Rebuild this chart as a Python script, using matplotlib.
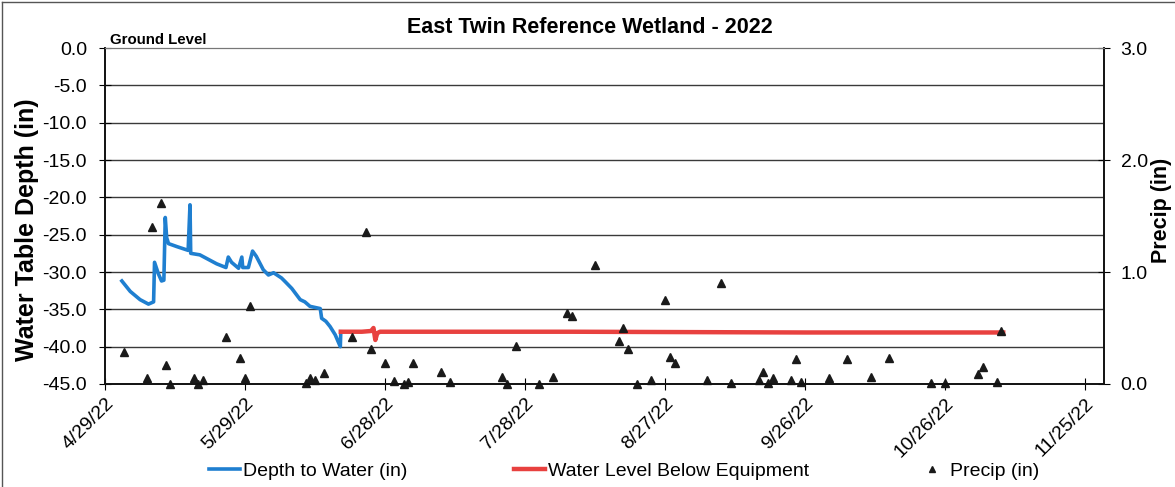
import numpy as np
import pandas as pd
import matplotlib
matplotlib.use("Agg")
import matplotlib.pyplot as plt
from matplotlib.lines import Line2D
from matplotlib.ticker import FuncFormatter
from matplotlib.transforms import ScaledTranslation

plt.rcParams['font.family'] = ['Liberation Sans', 'DejaVu Sans']

start = pd.Timestamp("2022-04-29")

# depth to water, days after 4/29/22 and depth (in)
depth_day = [3.6, 5.4, 7.5, 9.3, 10.4, 10.6, 11.4, 12.1, 12.6, 12.9, 13.2, 13.6,
             15.4, 17.8, 18.2, 18.35, 20.3, 21.8, 23.9, 25.9, 26.4, 27.1, 28.6,
             29.3, 29.5, 30.7, 31.6, 32.4, 33.9, 35.0, 36.1, 37.8, 38.6, 40.0,
             41.8, 42.8, 43.9, 46.1, 46.4, 47.3, 48.2, 49.3, 50.4, 50.5]
depth_val = [-31.2, -32.6, -33.7, -34.3, -34.0, -28.7, -30.2, -31.2, -31.1, -22.7,
             -25.4, -26.2, -26.6, -27.1, -21.0, -27.5, -27.7, -28.2, -28.9, -29.4,
             -28.0, -28.7, -29.5, -28.0, -29.4, -29.4, -27.2, -27.9, -29.7, -30.4,
             -30.1, -30.8, -31.3, -32.2, -33.7, -34.0, -34.6, -34.9, -36.2, -36.6,
             -37.3, -38.4, -40.0, -38.0]

# water level below equipment
below_day = [50.5, 55.0, 57.0, 57.5, 57.9, 58.3, 58.9, 100.0, 150.0, 192.4]
below_val = [-38.0, -38.0, -37.9, -37.5, -39.1, -38.2, -38.0, -38.0, -38.1, -38.1]

# daily precipitation (in)
precip_date = ["2022-05-03", "2022-05-08", "2022-05-09", "2022-05-11", "2022-05-12",
               "2022-05-13", "2022-05-18", "2022-05-19", "2022-05-20", "2022-05-25",
               "2022-05-28", "2022-05-29", "2022-05-30", "2022-06-11", "2022-06-12",
               "2022-06-13", "2022-06-15", "2022-06-21", "2022-06-24", "2022-06-25",
               "2022-06-28", "2022-06-30", "2022-07-02", "2022-07-03", "2022-07-04",
               "2022-07-10", "2022-07-12", "2022-07-23", "2022-07-24", "2022-07-26",
               "2022-07-31", "2022-08-03", "2022-08-06", "2022-08-07", "2022-08-12",
               "2022-08-17", "2022-08-18", "2022-08-19", "2022-08-21", "2022-08-24",
               "2022-08-27", "2022-08-28", "2022-08-29", "2022-09-05", "2022-09-08",
               "2022-09-10", "2022-09-16", "2022-09-17", "2022-09-18", "2022-09-19",
               "2022-09-23", "2022-09-24", "2022-09-25", "2022-10-01", "2022-10-05",
               "2022-10-10", "2022-10-14", "2022-10-23", "2022-10-26", "2022-11-02",
               "2022-11-03", "2022-11-06", "2022-11-07"]
precip_val = [0.29, 0.05, 1.40, 1.62, 0.17, 0.00, 0.05, 0.00, 0.04, 0.42,
              0.23, 0.05, 0.70, 0.01, 0.05, 0.04, 0.10, 0.42, 1.36, 0.31,
              0.19, 0.03, 0.00, 0.02, 0.19, 0.11, 0.02, 0.06, 0.00, 0.34,
              0.00, 0.06, 0.63, 0.61, 1.06, 0.38, 0.50, 0.31, 0.00, 0.04,
              0.75, 0.24, 0.19, 0.04, 0.90, 0.01, 0.04, 0.11, 0.01, 0.05,
              0.04, 0.22, 0.02, 0.05, 0.22, 0.06, 0.23, 0.01, 0.01, 0.09,
              0.15, 0.02, 0.47]

depth_x = start + pd.to_timedelta(depth_day, unit="D")
below_x = start + pd.to_timedelta(below_day, unit="D")
precip_x = pd.to_datetime(precip_date)

fig = plt.figure(figsize=(11.75, 4.87), dpi=100)
ax = fig.add_axes([0.0894, 0.2115, 0.8502, 0.6899])
ax2 = ax.twinx()

ax.set_ylim(-45, 0)
ax.set_yticks(np.arange(-45, 1, 5))
ax.yaxis.set_major_formatter(FuncFormatter(lambda v, p: f"{v:.1f}"))
ax.set_xlim(start, pd.Timestamp("2022-11-29"))
tick_dates = pd.date_range(start, periods=8, freq="30D")
ax.set_xticks(tick_dates)
ax.set_xticklabels([f"{d.month}/{d.day}/22" for d in tick_dates],
                   rotation=45, ha="right", rotation_mode="anchor", fontsize=14)
shift = ScaledTranslation(11 / 100, 0, fig.dpi_scale_trans)
for lab in ax.get_xticklabels():
    lab.set_transform(lab.get_transform() + shift)

for v in np.arange(-40, 0, 5):
    ax.axhline(v, color="#3a3a3a", lw=1.0, zorder=1)
for s in ["left", "bottom", "right"]:
    ax.spines[s].set_color("#111111")
    ax.spines[s].set_linewidth(1.2)
    ax2.spines[s].set_color("#111111")
    ax2.spines[s].set_linewidth(1.2)
ax.spines["top"].set_color("#777777")
ax2.spines["top"].set_color("#777777")

l1, = ax.plot(depth_x, depth_val, color="#1f7fd0", lw=2.6, zorder=3,
              label="Depth to Water (in)")
l2, = ax.plot(below_x, below_val, color="#e8413f", lw=3.2, zorder=3,
              label="Water Level Below Equipment")

ax2.set_ylim(0, 3)
ax2.set_yticks([0, 1, 2, 3])
ax2.yaxis.set_major_formatter(FuncFormatter(lambda v, p: f"{v:.1f}"))
l3, = ax2.plot(precip_x, precip_val, linestyle="none", marker="^", ms=6,
               color="#1a1a1a", clip_on=False, label="Precip (in)")

ax.tick_params(axis="y", direction="inout", length=8, labelsize=14, pad=9)
ax2.tick_params(axis="y", direction="inout", length=8, labelsize=14, pad=8)
ax.tick_params(axis="x", direction="inout", length=8, pad=4)

ax.set_ylabel("Water Table Depth (in)", fontsize=18, fontweight="bold")
ax.yaxis.set_label_coords(-0.066, 0.458)
ax2.set_ylabel("Precip (in)", fontsize=15.5, fontweight="bold")
ax2.yaxis.set_label_coords(1.047, 0.518)

ax.text(0.005, 1.004, "Ground Level", transform=ax.transAxes, fontsize=10.8,
        fontweight="bold", ha="left", va="bottom")
fig.text(0.502, 0.943, "East Twin Reference Wetland - 2022", ha="center",
         va="center", fontsize=15.5, fontweight="bold")

fig.legend(handles=[l1, l2, l3], loc="center", bbox_to_anchor=(0.531, 0.032),
           ncol=3, frameon=False, fontsize=14, handlelength=1.6,
           handletextpad=0.15, columnspacing=5.5, markerscale=0.7)

# chart area border
fig.add_artist(Line2D([0.002, 0.002], [0, 0.995], transform=fig.transFigure,
                      color="#555555", lw=1.0))
fig.add_artist(Line2D([0.002, 1.0], [0.995, 0.995], transform=fig.transFigure,
                      color="#555555", lw=1.0))

fig.savefig("out.png", dpi=100)
